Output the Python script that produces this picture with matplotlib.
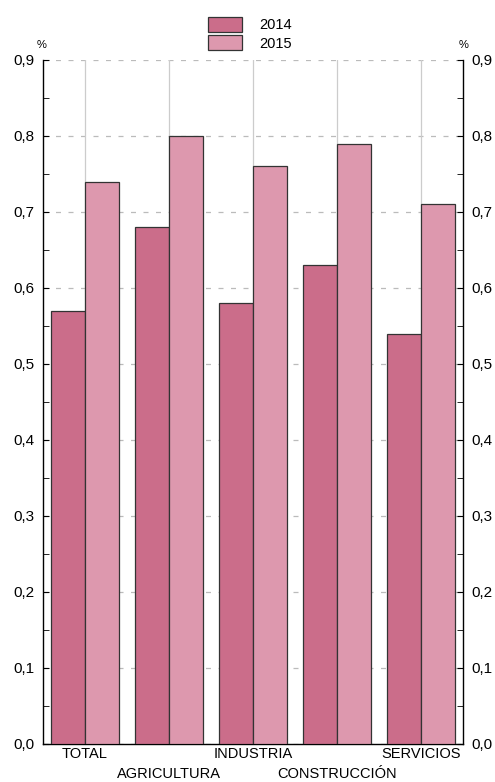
import matplotlib.pyplot as plt
import numpy as np
from matplotlib.ticker import MultipleLocator, FuncFormatter

plt.rcParams['font.family'] = ['Liberation Sans', 'DejaVu Sans']

categories = ["TOTAL", "AGRICULTURA", "INDUSTRIA", "CONSTRUCCIÓN", "SERVICIOS"]
values_2014 = [0.57, 0.68, 0.58, 0.63, 0.54]
values_2015 = [0.74, 0.80, 0.76, 0.79, 0.71]
series_labels = ["2014", "2015"]

color_2014 = '#CB6D8A'
color_2015 = '#DD98AE'

fig = plt.figure(figsize=(4.95, 7.82), dpi=100)
ax = fig.add_axes([0.0869, 0.0486, 0.8485, 0.8747])

x = np.arange(len(categories))
w = 0.4
ax.bar(x - w / 2, values_2014, w, color=color_2014, edgecolor='#333333',
       linewidth=0.9, label=series_labels[0], zorder=3)
ax.bar(x + w / 2, values_2015, w, color=color_2015, edgecolor='#333333',
       linewidth=0.9, label=series_labels[1], zorder=3)

ax.set_xlim(-0.5, len(categories) - 0.5)
ax.set_ylim(0, 0.9)

# vertical grid at category centres, dashed horizontal grid at majors
for xi in x:
    ax.axvline(xi, color='#cccccc', linewidth=0.9, zorder=1)
ax.yaxis.set_major_locator(MultipleLocator(0.1))
ax.yaxis.set_minor_locator(MultipleLocator(0.05))
ax.yaxis.grid(True, which='major', linestyle=(0, (4, 6)), color='#bbbbbb',
              linewidth=0.9, zorder=1)
ax.set_axisbelow(True)

fmt = FuncFormatter(lambda v, p: ("%.1f" % v).replace('.', ','))
ax.yaxis.set_major_formatter(fmt)
ax.tick_params(axis='y', which='both', direction='in', left=True, right=True,
               labelleft=True, labelright=True, labelsize=11, pad=6)
ax.tick_params(axis='y', which='major', length=4)
ax.tick_params(axis='y', which='minor', length=4)

ax.set_xticks(x)
ax.set_xticklabels(categories, fontsize=10.5)
ax.tick_params(axis='x', length=0, pad=2)
# alternate labels on two rows
for i, tick in enumerate(ax.xaxis.get_major_ticks()):
    if i % 2 == 1:
        tick.set_pad(16.5)

ax.spines['top'].set_visible(False)
for s in ['left', 'right', 'bottom']:
    ax.spines[s].set_linewidth(1.0)

fig.text(0.083, 0.936, "%", fontsize=8, ha='center', va='bottom')
fig.text(0.937, 0.936, "%", fontsize=8, ha='center', va='bottom')

fig.legend(loc='upper center', bbox_to_anchor=(0.505, 0.995), frameon=False,
           fontsize=10.5, handlelength=2.3, handleheight=1.2,
           labelspacing=0.2, handletextpad=1.2)

fig.savefig("out.png", dpi=100)
